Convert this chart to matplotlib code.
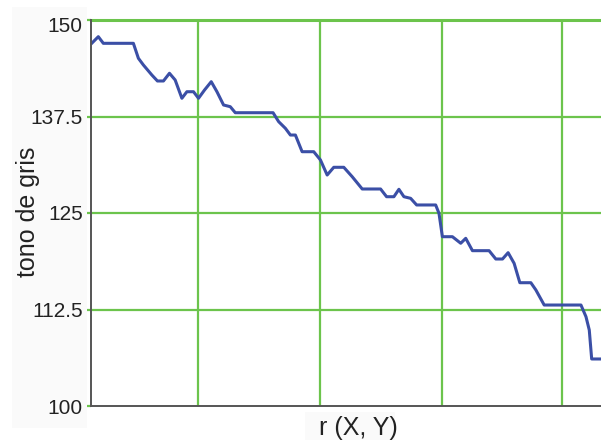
import matplotlib
matplotlib.use("Agg")
import matplotlib.pyplot as plt
import matplotlib.transforms as mtransforms
from matplotlib.patches import Rectangle

# data (x in arbitrary distance units, y = grey level)
r_vals = [0.7, 7.3, 12.3, 42.3, 47.3, 52.3, 60.7, 66.3, 72.3, 78.3, 84, 90.7, 95.7, 102.3,
          107.3, 113.3, 120, 125.7, 132.3, 139, 144, 181.7, 187.3, 194, 199, 204, 210.7,
          222.3, 229, 235.7, 242.3, 252.3, 260.7, 270.7, 289, 295, 302.3, 307.3, 312.3,
          319, 325, 344, 347.3, 350.7, 360.7, 369, 374, 380.7, 397.3, 404, 410.7, 416.3,
          422.3, 428, 439, 444, 452.3, 489, 494, 497.3, 499.7, 510]
gris = [146.98, 147.84, 146.98, 146.98, 145.04, 144.17, 142.88, 142.10, 142.10, 143.10,
        142.23, 139.86, 140.71, 140.71, 139.86, 140.93, 142.01, 140.71, 138.99, 138.77,
        137.99, 137.99, 136.83, 135.97, 135.10, 135.10, 132.94, 132.94, 131.87, 129.92,
        130.92, 130.92, 129.70, 128.11, 128.11, 127.11, 127.11, 128.07, 127.11, 126.90,
        126.04, 126.04, 124.96, 121.93, 121.93, 121.08, 121.72, 120.12, 120.12, 119.04,
        119.04, 119.86, 118.48, 115.97, 115.97, 115.03, 113.08, 113.08, 111.57, 109.84,
        106.09, 106.09]
y_ticks = [100, 112.5, 125, 137.5, 150]
y_tick_labels = ["100", "112.5", "125", "137.5", "150"]
x_grid = [107, 229, 350, 470]

fig = plt.figure(figsize=(6.01, 4.42), dpi=100)
# light panels behind labels
fig.patches.append(Rectangle((12/601, 1-428/442), 75/601, 421/442, transform=fig.transFigure,
                             facecolor="#fafafa", edgecolor="none", zorder=-5))
fig.patches.append(Rectangle((305/601, 1-440/442), 90/601, 28/442, transform=fig.transFigure,
                             facecolor="#fafafa", edgecolor="none", zorder=-5))

ax = fig.add_axes([91/601, 1-406/442, 1-91/601 + 0.01, (406-20)/442])
ax.set_zorder(2)
ax.set_facecolor("none")
ax.set_xlim(0, 515)
ax.set_ylim(100, 150)

green = "#6cc44c"
for yv in y_ticks[1:]:
    ax.axhline(yv, color=green, lw=1.6, zorder=1)
for xv in x_grid:
    ax.axvline(xv, color=green, lw=1.6, zorder=1)

ax.plot(r_vals, gris, color="#3b4fa6", lw=2.2, zorder=3, solid_joinstyle="round")

ax.set_yticks(y_ticks)
ax.set_yticklabels(y_tick_labels, fontsize=15, family="Liberation Sans", color="#222222")
ax.set_xticks([])
ax.tick_params(axis="y", length=3, width=1.6, color=green, pad=3)
# top label sits slightly below its gridline in the reference
top_lbl = ax.get_yticklabels()[-1]
top_lbl.set_transform(top_lbl.get_transform() +
                      mtransforms.ScaledTranslation(0, -5/100, fig.dpi_scale_trans))

ax.spines["right"].set_visible(False)
ax.spines["top"].set_visible(False)
for s in ["left", "bottom"]:
    ax.spines[s].set_color("#555555")
    ax.spines[s].set_linewidth(1.4)
    ax.spines[s].set_zorder(4)
ax.axhline(150, color=green, lw=2.2, zorder=2, clip_on=False)

fig.text(28/601, 1-212/442, "tono de gris", rotation=90, ha="center", va="center",
         fontsize=18, family="Liberation Sans", color="#222222", zorder=5)
fig.text(358/601, 1-428/442, "r (X, Y)", ha="center", va="center",
         fontsize=18, family="Liberation Sans", color="#222222", zorder=5)

fig.savefig("out.png", dpi=100)
